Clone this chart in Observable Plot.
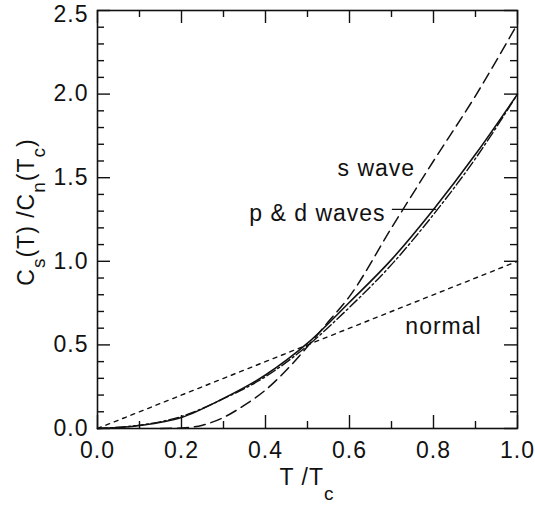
<!DOCTYPE html>
<html>
<head>
<meta charset="utf-8">
<script src="https://cdn.jsdelivr.net/npm/d3@7"></script>
<script src="https://cdn.jsdelivr.net/npm/@observablehq/plot@0.6"></script>
<style>
  html, body { margin: 0; padding: 0; background: #fff; }
</style>
</head>
<body>
<div id="chart"></div>
<script>
// ---- data ----
const normalT = [0, 1.0];
const normalC = [0, 1.0];

const sWaveT = [0.15, 0.2, 0.25, 0.3, 0.35, 0.4, 0.45, 0.5, 0.55, 0.6, 0.7, 0.8, 0.9, 1.0];
const sWaveC = [0, 0.003, 0.02, 0.066, 0.14, 0.23, 0.35, 0.49, 0.64, 0.79, 1.2, 1.6, 1.99, 2.42];

const pdT      = [0, 0.1, 0.2, 0.3, 0.4, 0.5, 0.6, 0.7, 0.8, 0.9, 1.0];
const pdSolidC = [0, 0.018, 0.066, 0.18, 0.32, 0.51, 0.755, 1.01, 1.31, 1.64, 2.0];
const pdDashDotC = [0, 0.02, 0.072, 0.178, 0.31, 0.495, 0.725, 0.98, 1.28, 1.615, 2.0];

const leaderT = [0.702, 0.805];
const leaderC = [1.31, 1.31];

const labelText = ["s wave", "p & d waves", "normal"];
const labelT = [0.664, 0.686, 0.733];
const labelC = [1.553, 1.284, 0.608];

const xMajor = [0, 0.2, 0.4, 0.6, 0.8, 1.0];
const xMinor = [0.1, 0.3, 0.5, 0.7, 0.9];
const yMajor = [0, 0.5, 1.0, 1.5, 2.0, 2.5];
const yMinor = [0.1,0.2,0.3,0.4,0.6,0.7,0.8,0.9,1.1,1.2,1.3,1.4,1.6,1.7,1.8,1.9,2.1,2.2,2.3,2.4];

// ---- layout ----
const W = 535, H = 507, mL = 97, mR = 18, mT = 10, mB = 79;
const innerW = W - mL - mR, innerH = H - mT - mB;
const majorLen = 13, minorLen = 7;
const ink = "#111";
const font = "'Liberation Sans', Arial, Helvetica, sans-serif";
const fs = 23, subFs = 19;

const zip = (xs, ys) => xs.map((x, i) => ({x, y: ys[i]}));
const tk = {stroke: ink, strokeWidth: 1.4};
const yTop = yMajor[yMajor.length - 1];

const plot = Plot.plot({
  width: W, height: H,
  marginLeft: mL, marginRight: mR, marginTop: mT, marginBottom: mB,
  style: {fontFamily: font, fontSize: fs + "px", letterSpacing: "1px", background: "#fff", color: ink},
  x: {domain: [0, 1]},
  y: {domain: [0, 2.5]},
  marks: [
    // inward ticks, all four sides
    Plot.tickX(xMajor, {x: d => d, insetTop: innerH - majorLen, ...tk}),
    Plot.tickX(xMinor, {x: d => d, insetTop: innerH - minorLen, ...tk}),
    Plot.tickX(xMajor, {x: d => d, insetBottom: innerH - majorLen, ...tk}),
    Plot.tickX(xMinor, {x: d => d, insetBottom: innerH - minorLen, ...tk}),
    Plot.tickY(yMajor, {y: d => d, insetRight: innerW - majorLen, ...tk}),
    Plot.tickY(yMinor, {y: d => d, insetRight: innerW - minorLen, ...tk}),
    Plot.tickY(yMajor, {y: d => d, insetLeft: innerW - majorLen, ...tk}),
    Plot.tickY(yMinor, {y: d => d, insetLeft: innerW - minorLen, ...tk}),
    Plot.axisX(xMajor, {tickSize: 0, tickPadding: 13, tickFormat: d3.format(".1f"), label: null, fontSize: fs, fill: ink}),
    Plot.axisY(yMajor.filter(d => d !== yTop), {tickSize: 0, tickPadding: 9, tickFormat: d3.format(".1f"), label: null, fontSize: fs, fill: ink}),
    Plot.axisY([yTop], {tickSize: 0, tickPadding: 9, dy: 4, tickFormat: d3.format(".1f"), label: null, fontSize: fs, fill: ink}),
    // curves
    Plot.line(zip(normalT, normalC), {x: "x", y: "y", stroke: ink, strokeWidth: 1.4, strokeDasharray: "4,5"}),
    Plot.line(zip(sWaveT, sWaveC), {x: "x", y: "y", curve: "monotone-x", stroke: ink, strokeWidth: 1.5, strokeDasharray: "11,6"}),
    Plot.line(zip(pdT, pdDashDotC), {x: "x", y: "y", curve: "monotone-x", stroke: ink, strokeWidth: 1.4, strokeDasharray: "10,3,2,3"}),
    Plot.line(zip(pdT, pdSolidC), {x: "x", y: "y", curve: "monotone-x", stroke: ink, strokeWidth: 1.6}),
    Plot.line(zip(leaderT, leaderC), {x: "x", y: "y", stroke: ink, strokeWidth: 1.2}),
    // annotations
    Plot.text([0], {x: i => labelT[0], y: i => labelC[0], text: i => labelText[0], textAnchor: "middle", fontSize: fs, fill: ink}),
    Plot.text([1], {x: i => labelT[1], y: i => labelC[1], text: i => labelText[1], textAnchor: "end", fontSize: fs, fill: ink}),
    Plot.text([2], {x: i => labelT[2], y: i => labelC[2], text: i => labelText[2], textAnchor: "start", fontSize: fs, fill: ink}),
    Plot.frame({stroke: ink, strokeWidth: 1.6})
  ]
});

// axis titles with real subscripts
const svg = d3.select(plot);
const xl = svg.append("text")
  .attr("x", mL + innerW / 2).attr("y", 485)
  .attr("text-anchor", "middle")
  .attr("fill", ink).style("font-family", font).style("font-size", fs + "px");
xl.append("tspan").text("T /T");
xl.append("tspan").attr("dy", 15).style("font-size", subFs + "px").text("c");

const yl = svg.append("text")
  .attr("transform", `translate(34,${mT + innerH / 2 - 7}) rotate(-90)`)
  .attr("text-anchor", "middle")
  .attr("fill", ink).style("font-family", font).style("font-size", fs + "px");
yl.append("tspan").text("C");
yl.append("tspan").attr("dy", 11).style("font-size", subFs + "px").text("s");
yl.append("tspan").attr("dy", -11).text("(T) /C");
yl.append("tspan").attr("dy", 11).style("font-size", subFs + "px").text("n");
yl.append("tspan").attr("dy", -11).text("(T");
yl.append("tspan").attr("dy", 11).style("font-size", subFs + "px").text("c");
yl.append("tspan").attr("dy", -11).text(")");

document.getElementById("chart").appendChild(plot);
</script>
</body>
</html>
